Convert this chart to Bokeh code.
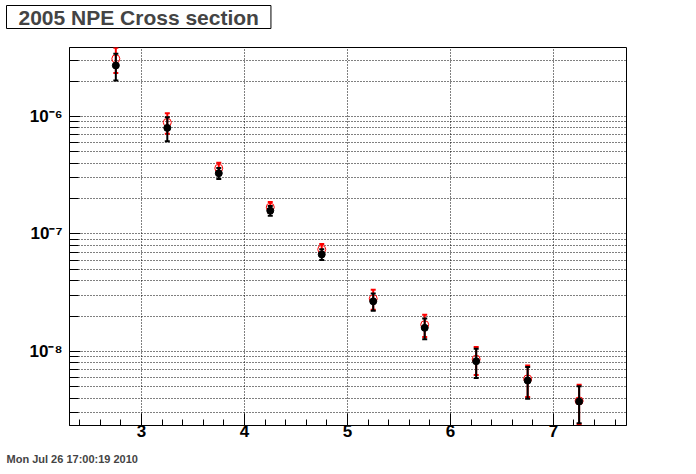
import numpy as np
from bokeh.plotting import figure
from bokeh.models import FixedTicker, Range1d, Title
from bokeh.embed import file_html
from bokeh.resources import INLINE

# ---- data ----
pt = [2.75, 3.25, 3.75, 4.25, 4.75, 5.25, 5.75, 6.25, 6.75, 7.25]
black_y = [2.72e-6, 8.0e-7, 3.29e-7, 1.58e-7, 6.7e-8, 2.67e-8, 1.59e-8, 8.26e-9, 5.66e-9, 3.75e-9]
black_err = [0.70e-6, 1.85e-7, 0.35e-7, 0.15e-7, 0.7e-8, 0.45e-8, 0.32e-8, 2.3e-9, 1.7e-9, 1.3e-9]
red_y = [3.10e-6, 8.9e-7, 3.63e-7, 1.69e-7, 7.4e-8, 2.81e-8, 1.69e-8, 8.6e-9, 5.85e-9, 3.8e-9]
red_err = [0.75e-6, 1.77e-7, 0.40e-7, 0.18e-7, 0.8e-8, 0.54e-8, 0.36e-8, 2.3e-9, 1.75e-9, 1.4e-9]

x_major = [3, 4, 5, 6, 7]
y_decades = [1e-9, 1e-8, 1e-7, 1e-6]
y_labels = ["10\u207b\u2079", "10\u207b\u2078", "10\u207b\u2077", "10\u207b\u2076"]
title_text = "2005 NPE Cross section"
stamp_text = "Mon Jul 26 17:00:19 2010"

FONT = "Liberation Sans"

p = figure(width=680, height=466, output_backend="svg", toolbar_location=None,
           y_axis_type="log",
           x_range=Range1d(2.3, 7.71), y_range=Range1d(2.344e-9, 3.866e-6),
           min_border_left=69, min_border_right=54, min_border_top=47, min_border_bottom=41)
p.background_fill_color = "white"
p.border_fill_color = "white"
p.outline_line_color = "black"
p.outline_line_width = 1

# ticks
x_minor = [round(v, 1) for v in np.arange(2.4, 7.71, 0.2)]
y_minor = [d * k for d in [1e-10] + y_decades for k in range(2, 10)]
p.xaxis.ticker = FixedTicker(ticks=x_major, minor_ticks=x_minor)
p.yaxis.ticker = FixedTicker(ticks=y_decades, minor_ticks=y_minor)
p.yaxis.major_label_overrides = {d: s for d, s in zip(y_decades, y_labels)}

for ax in (p.xaxis[0], p.yaxis[0]):
    ax.axis_line_color = "black"
    ax.major_tick_out = 0
    ax.minor_tick_out = 0
    ax.major_tick_line_color = "black"
    ax.minor_tick_line_color = "black"
    ax.major_label_text_font = FONT
    ax.major_label_text_font_style = "bold"
    ax.major_label_text_font_size = "17px"
    ax.major_label_text_color = "black"
p.xaxis.major_tick_in = 12
p.xaxis.minor_tick_in = 6
p.yaxis.major_tick_in = 11
p.yaxis.minor_tick_in = 9
p.xaxis.major_label_standoff = -1
p.yaxis.major_label_standoff = 7

# grids
p.xgrid.grid_line_color = "black"
p.xgrid.grid_line_dash = "1 2"
p.ygrid.grid_line_color = "black"
p.ygrid.grid_line_dash = "1 2"
p.ygrid.minor_grid_line_color = "black"
p.ygrid.minor_grid_line_dash = "1 2"

# red series
r_lo = [y - e for y, e in zip(red_y, red_err)]
r_hi = [y + e for y, e in zip(red_y, red_err)]
p.segment(x0=pt, y0=r_lo, x1=pt, y1=r_hi, line_color="red", line_width=2)
p.scatter(x=pt, y=r_hi, marker="dash", size=5, line_color="red", line_width=2)
p.scatter(x=pt, y=r_lo, marker="dash", size=5, line_color="red", line_width=2)
p.scatter(x=pt, y=red_y, marker="circle", size=8, line_color="red", fill_color=None, line_width=1)

# black series
b_lo = [y - e for y, e in zip(black_y, black_err)]
b_hi = [y + e for y, e in zip(black_y, black_err)]
p.segment(x0=pt, y0=b_lo, x1=pt, y1=b_hi, line_color="black", line_width=2)
p.scatter(x=pt, y=b_hi, marker="dash", size=5, line_color="black", line_width=2)
p.scatter(x=pt, y=b_lo, marker="dash", size=5, line_color="black", line_width=2)
p.scatter(x=pt, y=black_y, marker="circle", size=7, line_color="black", fill_color="black")

# title box (outermost above panel) with a blank spacer panel between it and the frame
p.title.text = title_text
p.title.align = "left"
p.title.offset = -63
p.title.text_font = FONT
p.title.text_font_style = "bold"
p.title.text_font_size = "21px"
p.title.border_line_color = "black"
p.title.border_line_width = 1
p.title.padding = (12, 0)
p.title.standoff = 0
p.add_layout(Title(text=" ", text_font_size="1px", standoff=16), "above")

# time stamp below the axis, pushed down by a blank spacer panel
p.add_layout(Title(text=" ", text_font_size="1px", standoff=8), "below")
p.add_layout(Title(text=stamp_text, align="left", offset=-63, text_font=FONT,
                   text_font_style="bold", text_font_size="11px", standoff=0), "below")

open("out.html", "w").write(file_html(p, INLINE))
